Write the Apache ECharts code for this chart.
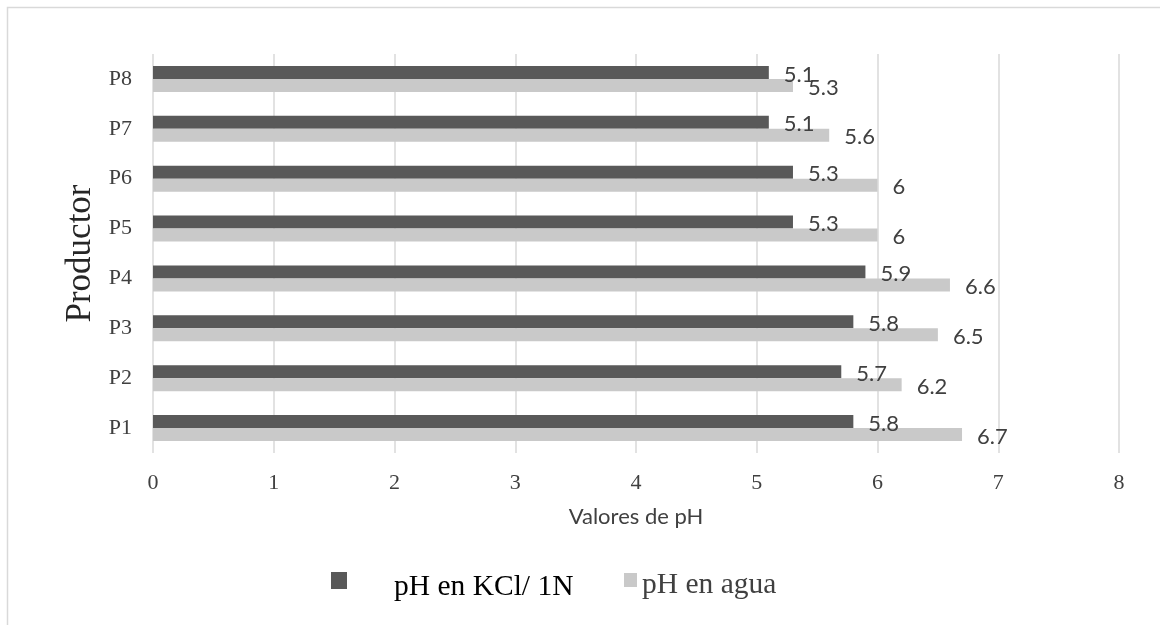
<!DOCTYPE html>
<html>
<head>
<meta charset="utf-8">
<script src="https://cdn.jsdelivr.net/npm/echarts@6/dist/echarts.min.js"></script>
<style>
  html, body { margin: 0; padding: 0; background: #fff; }
  #chart { width: 1160px; height: 625px; }
</style>
</head>
<body>
<div id="chart"></div>
<script>
// Productores (bottom to top)
const productores = ['P1', 'P2', 'P3', 'P4', 'P5', 'P6', 'P7', 'P8'];
// pH values per productor
const phKCl = [5.8, 5.7, 5.8, 5.9, 5.3, 5.3, 5.1, 5.1];
const phAgua = [6.7, 6.2, 6.5, 6.6, 6.0, 6.0, 5.6, 5.3];
// Value axis range
const xMin = 0, xMax = 8, xStep = 1;

const serif = '"Liberation Serif", "Times New Roman", serif';
const sans = 'Lato, "Open Sans", sans-serif';

// Legend swatches sit a little above the text line: the square fills the
// top of the icon box and a zero-area segment keeps the lower part empty.
const swatchKCl = 'path://M0,0H16V17H0Z M0,30L16,30';
const swatchAgua = 'path://M0,0H13V14H0Z M0,24L13,24';

const chart = echarts.init(document.getElementById('chart'), null, { renderer: 'canvas' });

const labelStyle = {
  show: true,
  position: 'right',
  distance: 15,
  offset: [0, 2],
  fontFamily: sans,
  fontSize: 22,
  color: '#404040',
  formatter: p => String(p.value)
};

chart.setOption({
  animation: false,
  backgroundColor: '#ffffff',
  graphic: [{
    type: 'rect',
    shape: { x: 7.5, y: 7.5, width: 2000, height: 2000 },
    style: { fill: 'none', stroke: '#d9d9d9', lineWidth: 1.5 },
    silent: true
  }],
  grid: { left: 153, right: 41, top: 54, bottom: 172, containLabel: false },
  legend: [{
    data: ['pH en KCl/ 1N'],
    left: 326, top: 567,
    icon: swatchKCl, itemWidth: 16, itemHeight: 30,
    textStyle: { fontFamily: serif, fontSize: 29.5, color: '#000000', padding: [0, 0, 0, 42] }
  }, {
    data: ['pH en agua'],
    left: 619, top: 565,
    icon: swatchAgua, itemWidth: 13, itemHeight: 24,
    textStyle: { fontFamily: serif, fontSize: 29.5, color: '#404040' }
  }],
  xAxis: {
    type: 'value',
    min: xMin, max: xMax, interval: xStep,
    name: 'Valores de pH',
    nameLocation: 'middle',
    nameGap: 53,
    nameTextStyle: { fontFamily: sans, fontSize: 22, color: '#404040' },
    axisLine: { show: false },
    axisTick: { show: false },
    axisLabel: { fontFamily: serif, fontSize: 22, color: '#404040', margin: 19 },
    splitLine: { show: true, lineStyle: { color: '#d9d9d9', width: 1.5 } }
  },
  yAxis: {
    type: 'category',
    data: productores,
    name: 'Productor',
    nameLocation: 'middle',
    nameGap: 55,
    nameRotate: 90,
    nameTextStyle: { fontFamily: serif, fontSize: 35, color: '#262626' },
    axisLine: { show: false },
    axisTick: { show: false },
    axisLabel: { fontFamily: serif, fontSize: 22, color: '#404040', margin: 21 },
    splitLine: { show: false }
  },
  series: [{
    name: 'pH en KCl/ 1N',
    type: 'bar',
    data: phKCl,
    barWidth: 13,
    barGap: '0%',
    itemStyle: { color: '#595959' },
    label: labelStyle
  }, {
    name: 'pH en agua',
    type: 'bar',
    data: phAgua,
    barWidth: 13,
    barGap: '0%',
    itemStyle: { color: '#c9c9c9' },
    label: labelStyle
  }]
});
</script>
</body>
</html>
